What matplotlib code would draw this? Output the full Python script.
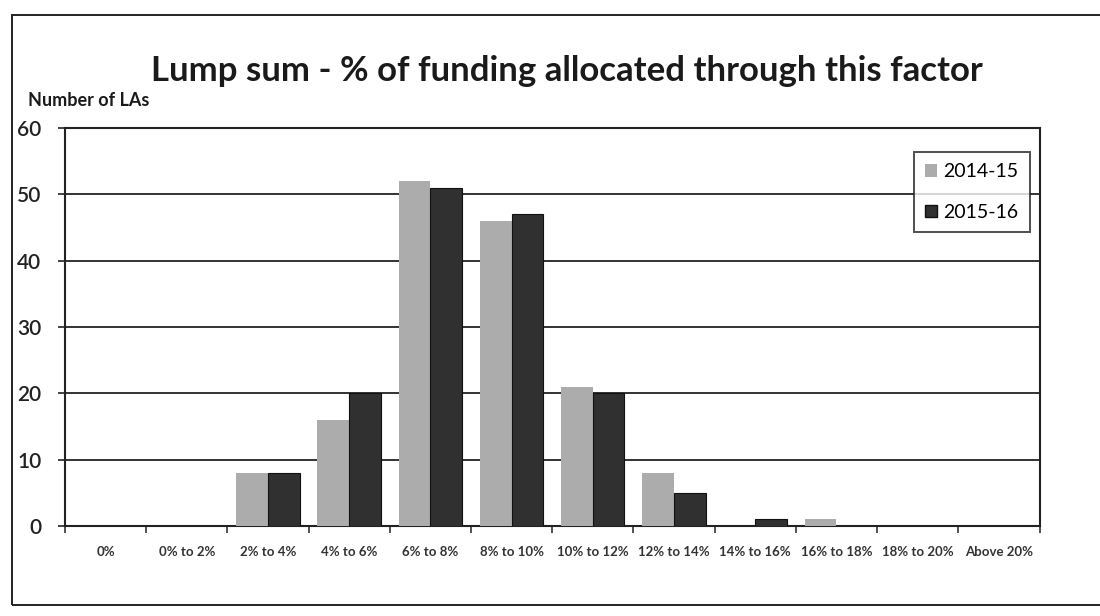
import numpy as np
import matplotlib.pyplot as plt
from matplotlib.patches import Rectangle, Patch

categories = ['0%', '0% to 2%', '2% to 4%', '4% to 6%', '6% to 8%', '8% to 10%',
              '10% to 12%', '12% to 14%', '14% to 16%', '16% to 18%', '18% to 20%', 'Above 20%']
y2014 = [0, 0, 8, 16, 52, 46, 21, 8, 0, 1, 0, 0]
y2015 = [0, 0, 8, 20, 51, 47, 20, 5, 1, 0, 0, 0]
series = ['2014-15', '2015-16']

plt.rcParams['font.family'] = ['Lato', 'DejaVu Sans']
plt.rcParams['hatch.color'] = '#d0d0d0'
plt.rcParams['hatch.linewidth'] = 1.0

fig = plt.figure(figsize=(11, 6.16), dpi=100)
ax = fig.add_axes([0.059, 0.146, 0.886, 0.646])

x = np.arange(len(categories))
w = 0.39
ax.bar(x - w / 2, y2014, w, color='#acacac', hatch='..', edgecolor='#acacac', linewidth=0, zorder=3)
ax.bar(x + w / 2, y2015, w, color='#303030', edgecolor='#111111', linewidth=0.8, zorder=3)

ax.set_xlim(-0.5, len(categories) - 0.5)
ax.set_ylim(0, 60)
ax.set_yticks(range(0, 61, 10))
ax.yaxis.grid(True, color='#333333', linewidth=1.4, zorder=0)
ax.set_xticks(x)
ax.set_xticklabels(categories, fontsize=9.5, fontweight='bold', color='#333333')
ax.set_xticks(np.arange(-0.5, len(categories)), minor=True)
ax.tick_params(axis='x', which='major', length=0, pad=14)
ax.tick_params(axis='x', which='minor', length=5, width=1.2, color='#333333')
ax.tick_params(axis='y', length=5, width=1.2, labelsize=15, pad=12, colors='#222222')
for lbl in ax.get_yticklabels():
    lbl.set_fontweight('semibold')
for s in ax.spines.values():
    s.set_color('#222222')
    s.set_linewidth(1.5)

fig.text(0.515, 0.885, 'Lump sum - % of funding allocated through this factor',
         ha='center', va='center', fontsize=25, fontweight='bold', color='#1a1a1a')
fig.text(0.025, 0.837, 'Number of LAs', ha='left', va='center', fontsize=13,
         fontweight='bold', color='#1a1a1a')

handles = [Patch(facecolor='#acacac', hatch='..', edgecolor='#acacac', linewidth=0),
           Patch(facecolor='#303030', edgecolor='#111111')]
leg = ax.legend(handles, series, loc='upper right', bbox_to_anchor=(1.0, 0.965),
                fontsize=14, frameon=True, fancybox=False, edgecolor='#222222',
                handlelength=0.6, handleheight=0.6, handletextpad=0.3,
                labelspacing=1.2, borderpad=0.6)
leg.get_frame().set_linewidth(1.4)

fig.patches.append(Rectangle((0.011, 0.018), 1.0, 0.958, transform=fig.transFigure,
                             fill=False, edgecolor='#222222', linewidth=1.4))

fig.savefig('out.png', dpi=100, facecolor='white')
